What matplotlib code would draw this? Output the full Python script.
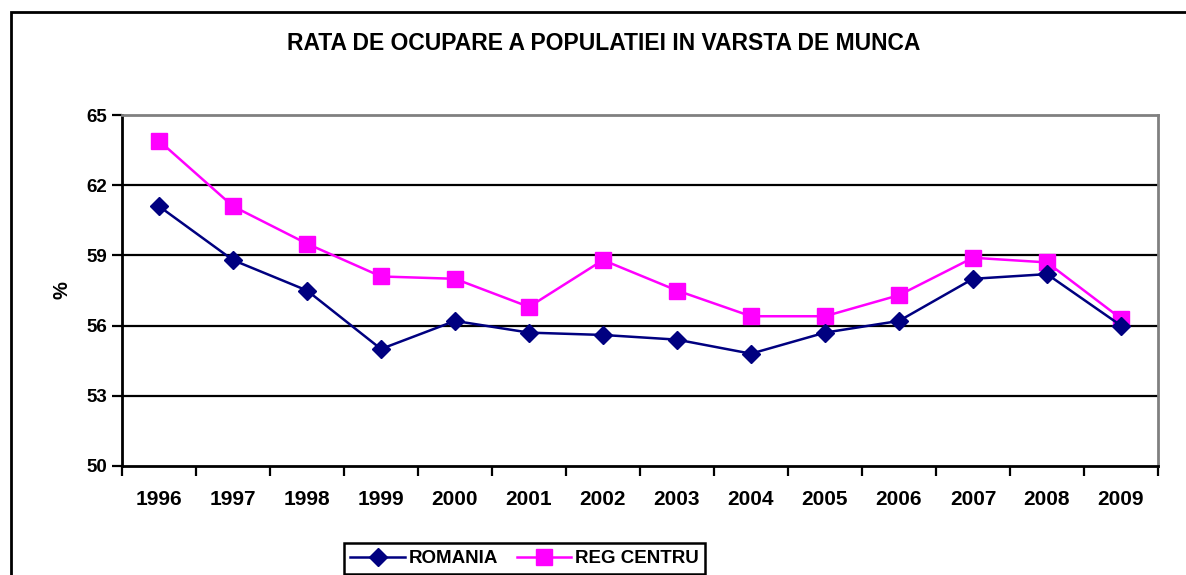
import matplotlib.pyplot as plt
from matplotlib.patches import Rectangle

# data
years = ['1996', '1997', '1998', '1999', '2000', '2001', '2002',
         '2003', '2004', '2005', '2006', '2007', '2008', '2009']
romania = [61.1, 58.8, 57.5, 55.0, 56.2, 55.7, 55.6,
           55.4, 54.8, 55.7, 56.2, 58.0, 58.2, 56.0]
reg_centru = [63.9, 61.1, 59.5, 58.1, 58.0, 56.8, 58.8,
              57.5, 56.4, 56.4, 57.3, 58.9, 58.7, 56.3]
y_ticks = [50, 53, 56, 59, 62, 65]

plt.rcParams['font.family'] = ['Liberation Sans', 'DejaVu Sans']
plt.rcParams['font.weight'] = 'bold'

W, H = 1186, 575
fig = plt.figure(figsize=(W / 100, H / 100), dpi=100)

# outer chart frame (runs off the right and bottom edges)
fig.patches.append(Rectangle((11 / W, -0.05), 1.2, 1 - 12 / H + 0.05,
                             transform=fig.transFigure, fill=False,
                             edgecolor='black', linewidth=2))

ax = fig.add_axes([122 / W, (H - 466) / H, (1158 - 122) / W, 351 / H])

x = list(range(len(years)))
ax.plot(x, romania, color='#000080', marker='D', markersize=9,
        linewidth=1.8, label='ROMANIA', zorder=4)
ax.plot(x, reg_centru, color='#FF00FF', marker='s', markersize=11,
        linewidth=1.8, label='REG CENTRU', zorder=3)

ax.set_xlim(-0.5, len(years) - 0.5)
ax.set_ylim(50, 65)

ax.set_yticks(y_ticks)
ax.set_yticklabels([str(v) for v in y_ticks], fontsize=13.5, fontweight='bold')
for v in y_ticks[1:-1]:
    ax.axhline(v, color='black', linewidth=1.6, zorder=1)

ax.set_xticks(x)
ax.set_xticklabels(years, fontsize=15, fontweight='bold')
ax.set_xticks([i - 0.5 for i in range(len(years) + 1)], minor=True)
ax.tick_params(axis='x', which='major', length=0, pad=17)
ax.tick_params(axis='x', which='minor', length=7, width=1.6, direction='out')
ax.tick_params(axis='y', which='major', length=7, width=1.6, direction='out', pad=4)

ax.spines['left'].set_linewidth(2)
ax.spines['bottom'].set_linewidth(2)
ax.spines['top'].set_color('#808080')
ax.spines['right'].set_color('#808080')
ax.spines['top'].set_linewidth(2)
ax.spines['right'].set_linewidth(2)

fig.text(62 / W, 1 - 290 / H, '%', rotation=90, ha='center', va='center',
         fontsize=14.5, fontweight='bold')

fig.text(604 / W, 1 - 44 / H, 'RATA DE OCUPARE A POPULATIEI IN VARSTA DE MUNCA',
         ha='center', va='center', fontsize=16.5, fontweight='bold')

leg = fig.legend(loc='upper center', bbox_to_anchor=(524.5 / W, 1 - 534 / H),
                 ncol=2, fontsize=13.5, frameon=True, fancybox=False,
                 framealpha=1, edgecolor='black', handlelength=2.9,
                 handletextpad=0.2, columnspacing=1.0, borderpad=0.35)
leg.get_frame().set_linewidth(1.8)

fig.savefig('out.png', dpi=100)
